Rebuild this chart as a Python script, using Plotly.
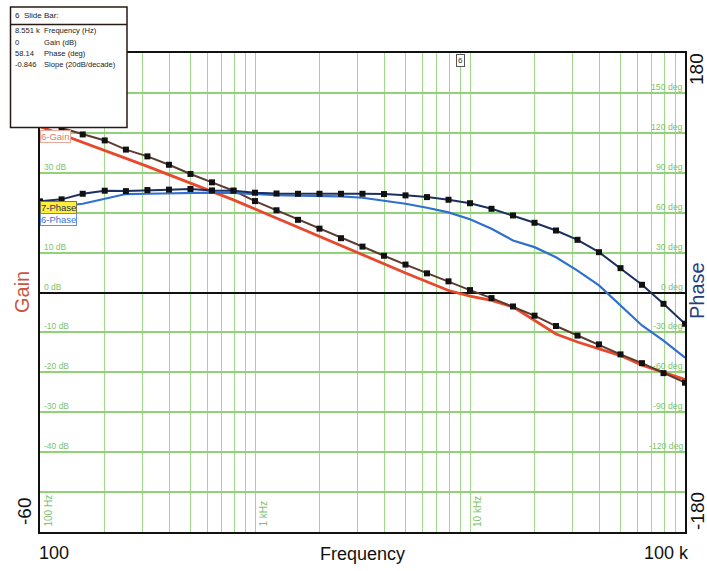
import plotly.graph_objects as go
import math

# ---------------- data ----------------
freq_hz = [100, 126, 158, 200, 251, 316, 398, 501, 631, 794,
           1000, 1259, 1585, 1995, 2512, 3162, 3981, 5012, 6310, 7943,
           10000, 12589, 15849, 19953, 25119, 31623, 39811, 50119, 63096, 79433,
           100000]

gain7_db = [42.8, 41.2, 39.6, 38.1, 35.8, 34.1, 32.0, 29.7, 27.6, 25.5,
            22.9, 20.6, 18.2, 16.0, 13.6, 11.5, 9.2, 7.0, 4.8, 2.8,
            0.6, -1.4, -3.5, -5.8, -8.4, -10.8, -13.0, -15.5, -17.7, -20.2,
            -22.6]

gain6_db = [41.6, 39.6, 37.8, 35.7, 33.6, 31.6, 29.5, 27.5, 25.4, 23.2,
            20.9, 18.6, 16.3, 14.0, 11.7, 9.4, 7.1, 4.9, 2.7, 0.5,
            -0.9, -2.0, -3.6, -7.0, -10.4, -12.4, -14.1, -15.8, -18.2, -20.0,
            -21.8]

phase7_deg = [68.5, 70.0, 74.2, 76.5, 76.2, 77.0, 77.3, 77.8, 76.7, 76.5,
              75.0, 74.4, 74.2, 74.2, 74.2, 74.2, 74.0, 73.0, 71.7, 69.7,
              67.1, 62.9, 57.9, 52.4, 46.6, 39.6, 30.3, 18.3, 5.8, -8.5,
              -23.5]

phase6_deg = [64.5, 65.0, 66.7, 70.5, 74.0, 74.2, 74.5, 74.8, 75.0, 74.8,
              73.8, 73.2, 72.8, 72.5, 72.2, 71.2, 69.2, 66.7, 63.7, 60.2,
              55.0, 47.9, 39.1, 34.1, 26.5, 16.5, 5.3, -9.8, -24.8, -36.1,
              -49.0]

gain_grid_labels = [30, 10, 0, -10, -20, -30, -40]
phase_grid_labels = [150, 120, 90, 60, 30, 0, -30, -60, -90, -120]
freq_grid_labels = [(100, "100 Hz"), (1000, "1 kHz"), (10000, "10 kHz")]

slide_freq = 8551
slide_rows = [("8.551 k", "Frequency (Hz)"),
              ("0", "Gain (dB)"),
              ("58.14", "Phase (deg)"),
              ("-0.846", "Slope (20dB/decade)")]

# ---------------- layout geometry ----------------
W, H = 707, 571
L, R, T, B = 40, 685, 53, 532


def px(x):
    return (x - L) / (R - L)


def py(y):
    return (B - y) / (B - T)


GREEN_TXT = "#7cc46a"
FONT = "Liberation Sans, Arial, sans-serif"

fig = go.Figure()

fig.add_trace(go.Scatter(x=freq_hz, y=gain6_db, mode="lines",
                         line=dict(color="#e8482c", width=2.8), yaxis="y",
                         name="6-Gain", showlegend=False))
fig.add_trace(go.Scatter(x=freq_hz, y=phase6_deg, mode="lines",
                         line=dict(color="#2f6fd0", width=2.2), yaxis="y2",
                         name="6-Phase", showlegend=False))
fig.add_trace(go.Scatter(x=freq_hz, y=gain7_db, mode="lines+markers",
                         line=dict(color="#5b3a30", width=2),
                         marker=dict(symbol="square", size=6, color="#111111"),
                         yaxis="y", name="7-Gain", showlegend=False))
fig.add_trace(go.Scatter(x=freq_hz, y=phase7_deg, mode="lines+markers",
                         line=dict(color="#1c2f5e", width=2),
                         marker=dict(symbol="square", size=6, color="#111111"),
                         yaxis="y2", name="7-Phase", showlegend=False))

shapes = []
xs = math.log10(slide_freq)
# yellow slide bar
shapes.append(dict(type="line", xref="x", yref="paper", x0=xs, x1=xs, y0=0, y1=1,
                   line=dict(color="#c9b000", width=6), layer="above"))
shapes.append(dict(type="line", xref="x", yref="paper", x0=xs, x1=xs, y0=0, y1=1,
                   line=dict(color="#ffee20", width=3.5), layer="above"))
# slide bar info box
shapes.append(dict(type="rect", xref="paper", yref="paper",
                   x0=px(10.5), x1=px(127), y0=py(127.5), y1=py(7),
                   fillcolor="white", line=dict(color="#2a1a14", width=1.5),
                   layer="above"))
shapes.append(dict(type="line", xref="paper", yref="paper",
                   x0=px(10.5), x1=px(127), y0=py(24.5), y1=py(24.5),
                   line=dict(color="#2a1a14", width=1.5), layer="above"))

ann = []


def text(x, y, s, size=20, color="#111", angle=0, family=FONT, xa="center", ya="middle"):
    ann.append(dict(xref="paper", yref="paper", x=px(x), y=py(y), text=s,
                    showarrow=False, xanchor=xa, yanchor=ya, textangle=angle,
                    font=dict(family=family, size=size, color=color)))


# box texts
text(13, 15.5, "6  Slide Bar:", size=8, color="#222", xa="left")
for k, (v, lab) in enumerate(slide_rows):
    yy = 31 + k * 11.3
    text(13, yy, v, size=7.6, color="#222", xa="left")
    text(42, yy, lab, size=7.6, color="#222", xa="left")

# grid labels (gain, left)
for g in gain_grid_labels:
    ann.append(dict(xref="paper", yref="y", x=px(41.5), y=g, text=f"{g} dB",
                    showarrow=False, xanchor="left", yanchor="bottom", yshift=-1,
                    font=dict(family=FONT, size=8.5, color=GREEN_TXT)))
# grid labels (phase, right)
for p in phase_grid_labels:
    ann.append(dict(xref="paper", yref="y2", x=1.0, y=p, text=f"{p} deg",
                    showarrow=False, xanchor="right", yanchor="bottom", yshift=-1,
                    font=dict(family=FONT, size=8.7, color=GREEN_TXT)))
# frequency grid labels (vertical)
for f, lab in freq_grid_labels:
    ann.append(dict(xref="x", yref="paper", x=math.log10(f), y=py(529), text=lab,
                    showarrow=False, xanchor="left", yanchor="bottom", textangle=-90,
                    xshift=0, font=dict(family=FONT, size=10, color=GREEN_TXT)))

# trace labels
ann.append(dict(xref="paper", yref="paper", x=0, y=py(136.5), text="6-Gain",
                showarrow=False, xanchor="left", yanchor="middle",
                bgcolor="white", bordercolor="#e9a898", borderwidth=1, borderpad=0,
                font=dict(family=FONT, size=9.5, color="#e07a66")))
ann.append(dict(xref="paper", yref="paper", x=0, y=py(207.5), text="7-Phase",
                showarrow=False, xanchor="left", yanchor="middle",
                bgcolor="#ffef3a", bordercolor="#7a7a40", borderwidth=1, borderpad=0,
                font=dict(family=FONT, size=9.5, color="#1c2f5e")))
ann.append(dict(xref="paper", yref="paper", x=0, y=py(219.5), text="6-Phase",
                showarrow=False, xanchor="left", yanchor="middle",
                bgcolor="white", bordercolor="#5f8fe0", borderwidth=1, borderpad=0,
                font=dict(family=FONT, size=9.5, color="#3d72d4")))
# slide bar number tag
ann.append(dict(xref="x", yref="paper", x=xs, y=py(61), text="6",
                showarrow=False, xanchor="left", yanchor="middle", xshift=1,
                bgcolor="white", bordercolor="#555", borderwidth=1, borderpad=1,
                font=dict(family=FONT, size=8, color="#333")))

# outer axis texts
text(22, 292, "Gain", color="#c9553f", angle=-90)
text(697, 291, "Phase", color="#23407e", angle=-90)
text(24, 512, "-60", angle=-90, size=19)
text(697, 69, "180", angle=-90, size=19)
text(697, 511, "-180", angle=-90, size=19)
text(54, 553, "100", size=18)
text(666, 553, "100 k", size=18)
text(362, 554, "Frequency", size=18)

fig.update_layout(
    width=W, height=H,
    margin=dict(l=L, r=W - R, t=T, b=H - B, pad=0),
    paper_bgcolor="white", plot_bgcolor="white",
    showlegend=False,
    xaxis=dict(type="log", range=[2, 5], dtick="D1", showticklabels=False,
               ticks="", showgrid=True, gridcolor="#9fd98a", gridwidth=1.3,
               showline=True, mirror=True, linecolor="#111", linewidth=2,
               zeroline=False),
    yaxis=dict(range=[-60, 60], dtick=10, showticklabels=False, ticks="",
               showgrid=True, gridcolor="#8fd277", gridwidth=2.2,
               zeroline=True, zerolinecolor="#111", zerolinewidth=1.5,
               showline=True, mirror=True, linecolor="#111", linewidth=2),
    yaxis2=dict(range=[-180, 180], overlaying="y", side="right",
                showticklabels=False, ticks="", showgrid=False, zeroline=False,
                showline=False),
    shapes=shapes,
    annotations=ann,
)

fig.write_html("out.html", config={"displayModeBar": False},
               post_script="document.body.style.margin='0';document.body.style.padding='0';")
